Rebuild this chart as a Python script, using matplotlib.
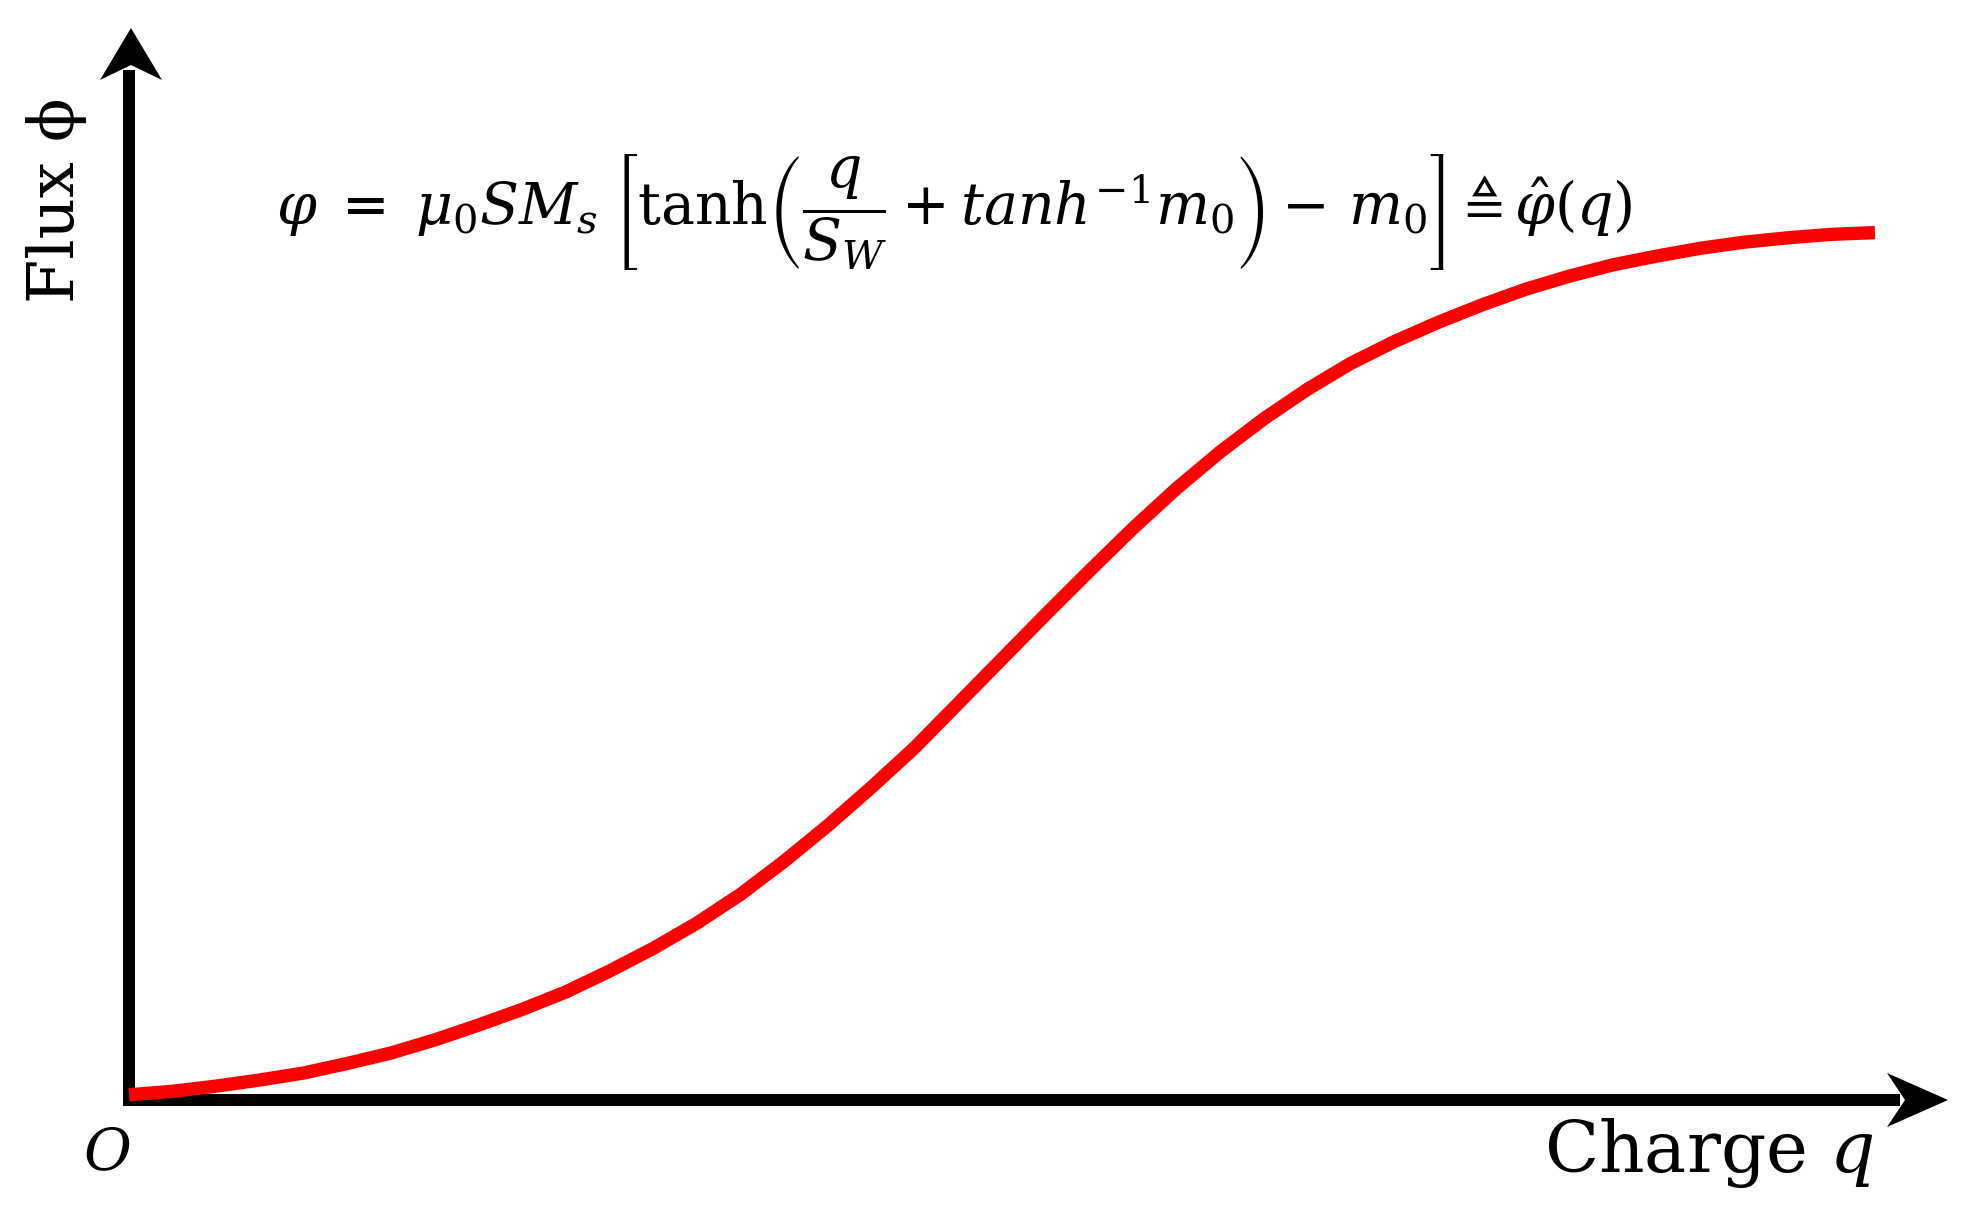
import matplotlib
matplotlib.use("Agg")
import matplotlib.pyplot as plt
from matplotlib.patches import Polygon

# curve (charge q in arbitrary units, flux normalised)
q_vals = [0.0, 0.25, 0.5, 0.75, 1.0, 1.25, 1.5, 1.75, 2.0, 2.25, 2.5, 2.75,
          3.0, 3.25, 3.5, 3.75, 4.0, 4.25, 4.5, 4.75, 5.0, 5.25, 5.5, 5.75,
          6.0, 6.25, 6.5, 6.75, 7.0, 7.25, 7.5, 7.75, 8.0, 8.25, 8.5, 8.75,
          9.0, 9.25, 9.5, 9.75, 10.0]
phi_vals = [0.006, 0.010, 0.016, 0.023, 0.031, 0.042, 0.054, 0.069, 0.086, 0.104,
            0.124, 0.148, 0.174, 0.203, 0.236, 0.274, 0.315, 0.359, 0.405, 0.456,
            0.507, 0.558, 0.608, 0.657, 0.703, 0.745, 0.783, 0.817, 0.847, 0.872,
            0.894, 0.914, 0.932, 0.947, 0.960, 0.970, 0.979, 0.986, 0.991, 0.995,
            0.997]

x_label = "Charge $q$"
y_label = "Flux ϕ"
origin_label = "$O$"
formula = (r"$\varphi\;=\;\mu_0SM_s\;\left[\mathrm{tanh}\left(\dfrac{q}{S_W}+tanh^{-1}m_0\right)"
           r"-\,m_0\right]\triangleq\hat{\varphi}(q)$")

W, H = 1970, 1217
PX_X, PX_Y = 174.6, 870.0     # pixels per data unit
OX, OY = 129, 1100            # origin in pixels

plt.rcParams["mathtext.fontset"] = "dejavuserif"
plt.rcParams["font.family"] = "DejaVu Serif"

fig = plt.figure(figsize=(W / 100, H / 100), dpi=100)
ax = fig.add_axes([0, 0, 1, 1])
ax.set_xlim(-OX / PX_X, (W - OX) / PX_X)
ax.set_ylim((OY - H) / PX_Y, OY / PX_Y)
ax.axis("off")


def px(x, y):
    """pixel position -> data coords"""
    return (x - OX) / PX_X, (OY - y) / PX_Y


def stealth(tip, direction, length, half_w, notch):
    tx, ty = tip
    if direction == "x":
        pts = [(tx, ty), (tx - length, ty - half_w), (tx - length + notch, ty),
               (tx - length, ty + half_w)]
    else:
        pts = [(tx, ty), (tx - half_w, ty + length), (tx, ty + length - notch),
               (tx + half_w, ty + length)]
    pts = [px(a, b) for a, b in pts]
    ax.add_patch(Polygon(pts, closed=True, color="black", lw=0, zorder=4))


axis_lw = 12 * 0.72
# x axis
x0, y0 = px(OX - 6, OY)
x1, _ = px(1900, OY)
ax.plot([x0, x1], [y0, y0], color="black", lw=axis_lw, solid_capstyle="butt", zorder=2)
stealth((1948, OY), "x", 61, 27, 18)
# y axis
ax0, ay0 = px(OX, OY + 6)
_, ay1 = px(OX, 70)
ax.plot([ax0, ax0], [ay0, ay1], color="black", lw=axis_lw, solid_capstyle="butt", zorder=2)
stealth((OX + 2, 28), "y", 52, 31, 15)

# the curve
ax.plot(q_vals, phi_vals, color="#ff0000", lw=9.6, solid_capstyle="butt",
        solid_joinstyle="round", zorder=3)

fig.text(1709 / W, 1 - 1172 / H, x_label, fontsize=51, ha="center", va="baseline")
fig.text(56 / W, 1 - 200 / H, y_label, fontsize=46, rotation=90, ha="center", va="center")
fig.text(107 / W, 1 - 1154 / H, origin_label, fontsize=42, ha="center", va="center")
fig.text(954 / W, 1 - 212 / H, formula, fontsize=41, ha="center", va="center")

fig.savefig("out.png", dpi=100)
